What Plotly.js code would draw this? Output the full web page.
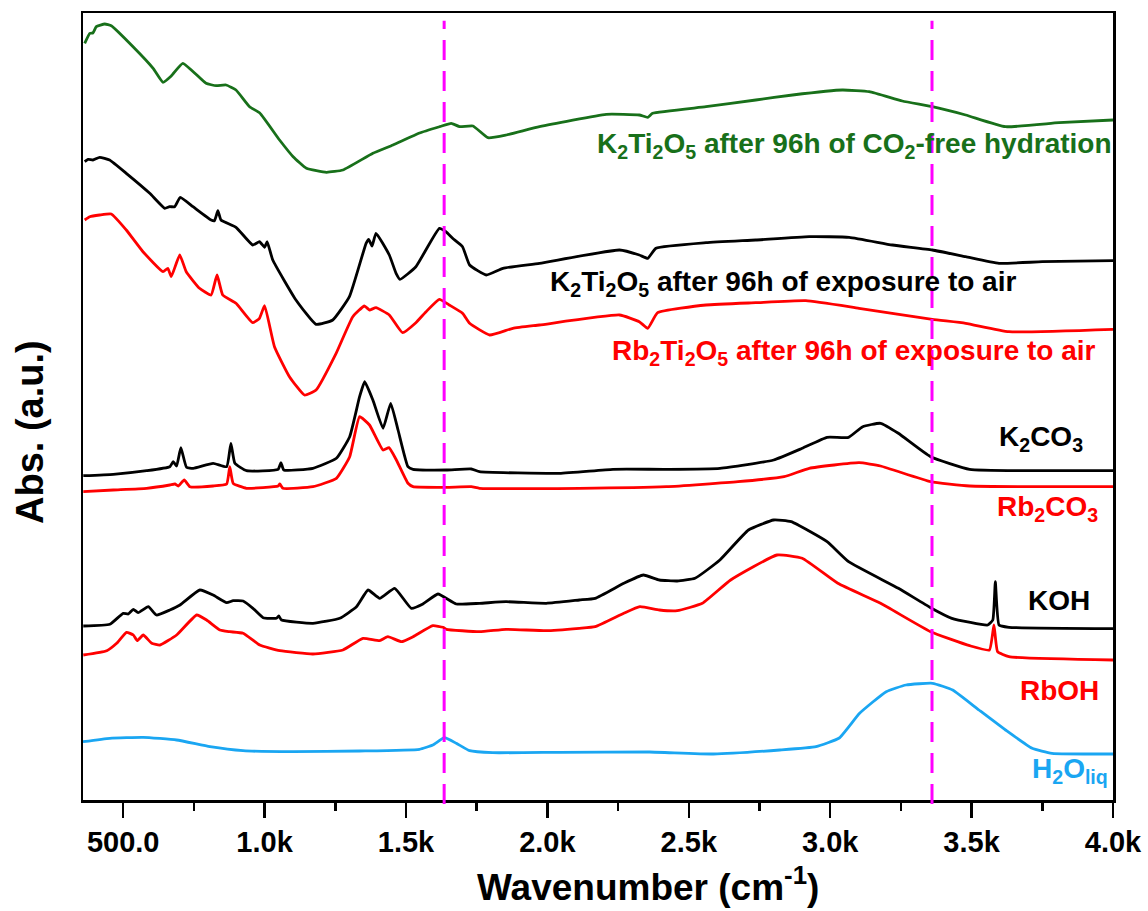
<!DOCTYPE html>
<html>
<head>
<meta charset="utf-8">
<script src="https://cdn.plot.ly/plotly-3.0.1.min.js"></script>
<style>html,body{margin:0;padding:0;background:#fff;}#chart{width:1148px;height:911px;}</style>
</head>
<body>
<div id="chart"></div>
<script>
// ---- data (x: wavenumber cm-1, y: absorbance, offset a.u.) ----
const greenX = [364,382,393,405,435,458,535,606,641,670,711,793,829,864,899,947,983,1053,1101,1148,1219,1277,1383,1454,1548,1619,1660,1690,1737,1790,1855,1972,2208,2325,2355,2372,2561,2737,2867,3043,3138,3255,3361,3479,3620,3809,4000];
const greenY = [7.567,7.667,7.67,7.733,7.76,7.743,7.533,7.317,7.177,7.24,7.367,7.167,7.143,7.15,7.10,6.933,6.87,6.60,6.433,6.317,6.277,6.30,6.467,6.55,6.67,6.733,6.767,6.733,6.74,6.623,6.65,6.733,6.857,6.85,6.827,6.867,6.933,7.00,7.05,7.10,7.083,6.99,6.933,6.85,6.733,6.773,6.80];

const k2tiAirX = [364,376,393,417,452,511,594,647,664,682,702,747,811,823,835,846,899,958,982,1000,1009,1029,1111,1182,1241,1300,1359,1368,1380,1394,1441,1465,1479,1535,1618,1641,1665,1700,1725,1784,1843,1972,2255,2325,2355,2384,2561,2737,2926,3067,3220,3361,3479,3597,3750,4000];
const k2tiAirY = [6.383,6.407,6.40,6.427,6.40,6.267,6.067,5.917,5.933,5.933,6.027,5.933,5.80,5.793,5.893,5.80,5.727,5.55,5.583,5.527,5.583,5.40,5.00,4.757,4.80,5.033,5.567,5.607,5.54,5.667,5.45,5.267,5.207,5.333,5.717,5.683,5.617,5.533,5.35,5.25,5.317,5.367,5.50,5.45,5.417,5.517,5.573,5.60,5.633,5.627,5.55,5.50,5.433,5.367,5.383,5.393];

const rb2tiAirX = [364,382,417,458,511,570,641,658,670,700,723,770,811,832,852,899,958,982,1000,1035,1088,1141,1182,1253,1312,1353,1371,1394,1441,1488,1535,1571,1618,1653,1700,1725,1796,1878,1972,2255,2325,2355,2390,2561,2737,2914,3102,3361,3479,3632,4000];
const rb2tiAirY = [5.80,5.833,5.85,5.86,5.70,5.483,5.283,5.317,5.233,5.45,5.283,5.117,5.05,5.25,5.05,4.967,4.773,4.817,4.943,4.533,4.233,4.05,4.10,4.467,4.833,4.94,4.90,4.923,4.85,4.673,4.773,4.883,5.007,4.95,4.867,4.767,4.65,4.717,4.75,4.85,4.783,4.717,4.873,4.95,4.973,4.993,4.917,4.807,4.767,4.683,4.707];

const k2co3X = [359,465,583,665,677,689,704,724,748,818,866,881,895,936,1048,1058,1068,1171,1254,1301,1336,1354,1383,1419,1446,1472,1507,1525,1642,1731,1760,2043,2232,2421,2610,2800,2901,2989,3065,3115,3178,3241,3355,3493,3683,4000];
const k2co3Y = [3.243,3.257,3.293,3.333,3.383,3.34,3.523,3.327,3.317,3.367,3.333,3.567,3.367,3.293,3.307,3.373,3.30,3.317,3.417,3.633,4.033,4.183,4.00,3.717,3.967,3.70,3.333,3.307,3.30,3.31,3.283,3.267,3.307,3.307,3.317,3.40,3.517,3.627,3.627,3.733,3.767,3.667,3.433,3.307,3.293,3.293];

const rb2co3X = [359,465,583,665,683,695,716,736,818,866,877,889,936,1048,1054,1065,1171,1254,1301,1336,1371,1419,1440,1466,1507,1525,1642,1731,1760,2113,2421,2674,2837,2926,3102,3178,3355,3493,4000];
const rb2co3Y = [3.083,3.10,3.117,3.15,3.16,3.14,3.20,3.133,3.14,3.16,3.333,3.167,3.117,3.14,3.16,3.117,3.133,3.217,3.433,3.833,3.75,3.50,3.523,3.40,3.167,3.133,3.127,3.133,3.117,3.117,3.133,3.183,3.233,3.317,3.373,3.34,3.183,3.14,3.133];

const kohX = [359,453,500,518,536,553,589,618,665,701,771,818,866,889,924,959,995,1042,1050,1060,1171,1266,1325,1366,1407,1460,1519,1560,1613,1678,1760,1854,1996,2113,2169,2270,2339,2396,2459,2522,2610,2711,2800,2862,2989,3065,3241,3355,3430,3557,3575,3584,3597,3632,4000];
const kohY = [1.74,1.757,1.867,1.86,1.907,1.873,1.933,1.85,1.90,1.95,2.10,2.05,1.973,1.993,1.99,1.917,1.823,1.817,1.84,1.80,1.767,1.817,1.933,2.10,2.017,2.117,1.917,1.96,2.06,1.96,1.967,1.983,1.967,2.00,2.017,2.167,2.25,2.20,2.19,2.217,2.40,2.70,2.80,2.783,2.583,2.383,2.117,1.923,1.817,1.75,1.80,2.183,1.75,1.727,1.713];

const rbohX = [359,442,477,512,536,550,571,601,630,689,760,795,842,877,924,983,1054,1171,1277,1348,1407,1436,1484,1525,1595,1631,1643,1760,1854,1996,2113,2169,2270,2327,2396,2459,2548,2648,2812,2901,3027,3178,3355,3493,3563,3579,3592,3632,4000];
const rbohY = [1.45,1.493,1.567,1.677,1.65,1.593,1.65,1.567,1.55,1.65,1.85,1.80,1.70,1.683,1.667,1.55,1.493,1.46,1.50,1.617,1.593,1.633,1.583,1.633,1.743,1.727,1.707,1.683,1.707,1.693,1.717,1.733,1.867,1.933,1.90,1.893,1.967,2.20,2.45,2.417,2.167,1.967,1.683,1.543,1.50,1.75,1.483,1.433,1.40];

const waterX = [358,453,571,689,807,924,1101,1336,1548,1595,1636,1678,1725,1807,2043,2361,2587,2822,2950,3032,3104,3198,3268,3362,3433,3526,3620,3714,3784,4000];
const waterY = [0.583,0.617,0.627,0.60,0.533,0.493,0.483,0.49,0.507,0.55,0.623,0.567,0.493,0.473,0.477,0.48,0.46,0.50,0.533,0.62,0.867,1.083,1.15,1.167,1.10,0.90,0.70,0.517,0.467,0.46];

const guideLinesX = [1635, 3360];

const tickVals = [500, 1000, 1500, 2000, 2500, 3000, 3500, 4000];
const tickText = ['500.0', '1.0k', '1.5k', '2.0k', '2.5k', '3.0k', '3.5k', '4.0k'];

const labelText = [
  'K<sub>2</sub>Ti<sub>2</sub>O<sub>5</sub> after 96h of CO<sub>2</sub>-free hydration',
  'K<sub>2</sub>Ti<sub>2</sub>O<sub>5</sub> after 96h of exposure to air',
  'Rb<sub>2</sub>Ti<sub>2</sub>O<sub>5</sub> after 96h of exposure to air',
  'K<sub>2</sub>CO<sub>3</sub>',
  'Rb<sub>2</sub>CO<sub>3</sub>',
  'KOH',
  'RbOH',
  'H<sub>2</sub>O<sub>liq</sub>'
];
const labelX = [3085, 2832, 3083, 3747, 3770, 3809, 3812, 3848];
const labelY = [6.55, 5.17, 4.48, 3.62, 2.92, 2.00, 1.10, 0.30];

const xTitle = 'Wavenumber (cm<sup>-1</sup>)';
const yTitle = 'Abs. (a.u.)';

// ---- styling ----
const GREEN = '#18701a', BLACK = '#000000', RED = '#ff0000', BLUE = '#1aa6f2', MAGENTA = '#ff00ff';
const FONT = 'Liberation Sans, Arial, sans-serif';

const series = [
  [greenX, greenY, GREEN],
  [k2tiAirX, k2tiAirY, BLACK],
  [rb2tiAirX, rb2tiAirY, RED],
  [k2co3X, k2co3Y, BLACK],
  [rb2co3X, rb2co3Y, RED],
  [kohX, kohY, BLACK],
  [rbohX, rbohY, RED],
  [waterX, waterY, BLUE]
];
const labelColors = [GREEN, BLACK, RED, BLACK, RED, BLACK, RED, BLUE];

const traces = series.map(s => ({
  type: 'scatter', mode: 'lines', x: s[0], y: s[1],
  line: {color: s[2], width: 2.8, shape: 'spline', smoothing: 0.4},
  hoverinfo: 'skip', showlegend: false
}));

const annotations = labelText.map((t, i) => ({
  x: labelX[i], y: labelY[i], xref: 'x', yref: 'y',
  text: '<b>' + t + '</b>', showarrow: false, xanchor: 'center', yanchor: 'middle',
  font: {family: FONT, size: 28, color: labelColors[i]}
}));
annotations.push({
  x: 0.5485, y: -0.108, xref: 'paper', yref: 'paper', xanchor: 'center', yanchor: 'middle',
  text: '<b>' + xTitle + '</b>', showarrow: false,
  font: {family: FONT, size: 37, color: '#000'}
});
annotations.push({
  x: -0.0515, y: 0.4676, xref: 'paper', yref: 'paper', xanchor: 'center', yanchor: 'middle',
  text: '<b>' + yTitle + '</b>', showarrow: false, textangle: -90,
  font: {family: FONT, size: 38, color: '#000'}
});

const shapes = guideLinesX.map(v => ({
  type: 'line', xref: 'x', yref: 'paper', x0: v, x1: v, y0: -0.005, y1: 0.99,
  line: {color: MAGENTA, width: 3, dash: '20px,11px'}
}));

const layout = {
  width: 1148, height: 911,
  margin: {l: 83, r: 35, t: 13, b: 111},
  paper_bgcolor: '#ffffff', plot_bgcolor: '#ffffff',
  showlegend: false,
  xaxis: {
    range: [358, 4000],
    showgrid: false, zeroline: false,
    showline: true, linecolor: '#000', linewidth: 2.5, mirror: true,
    ticks: 'outside', ticklen: 15, tickwidth: 2.5, tickcolor: '#000',
    tickvals: tickVals, ticktext: tickText,
    tickfont: {family: FONT, size: 29, color: '#000', weight: 'bold'},
    minor: {ticks: 'outside', ticklen: 8, tickwidth: 2.5, tickcolor: '#000', dtick: 250, tick0: 250, showgrid: false}
  },
  yaxis: {
    range: [0, 7.87],
    showgrid: false, zeroline: false,
    showline: true, linecolor: '#000', linewidth: 2.5, mirror: true,
    ticks: '', showticklabels: false
  },
  annotations: annotations,
  shapes: shapes
};

Plotly.newPlot('chart', traces, layout, {displayModeBar: false, staticPlot: true});
</script>
</body>
</html>
